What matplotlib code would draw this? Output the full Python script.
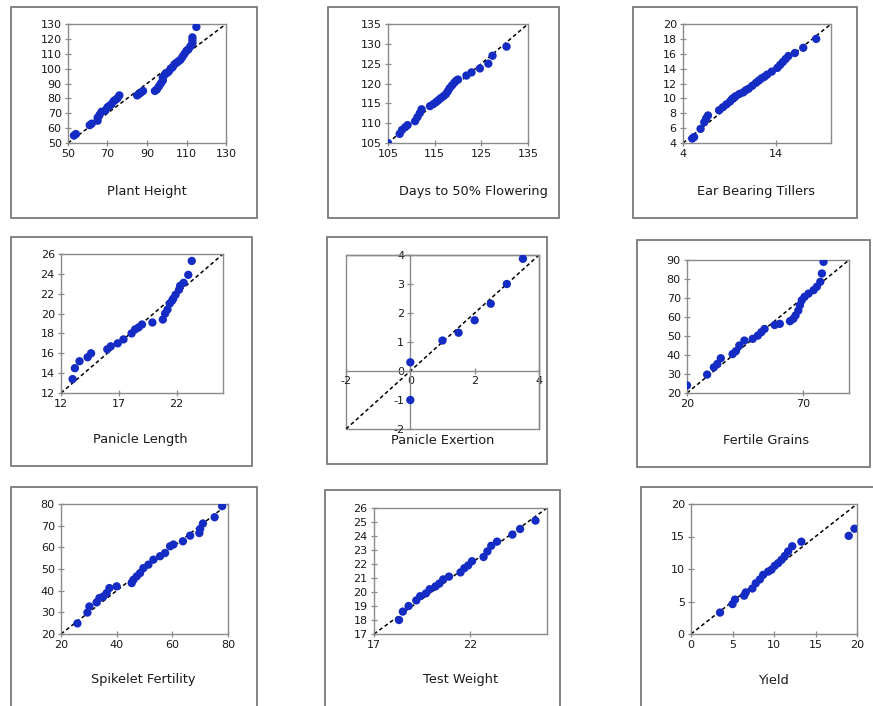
import matplotlib
matplotlib.use("Agg")
import matplotlib.pyplot as plt
from matplotlib.patches import Rectangle

plt.rcParams["axes.unicode_minus"] = False

W, H = 873, 706

# ---------------- data ----------------
titles = ["Plant Height", "Days to 50% Flowering", "Ear Bearing Tillers",
          "Panicle Length", "Panicle Exertion", "Fertile Grains",
          "Spikelet Fertility", "Test Weight", "Yield"]

ph_x = [53, 54, 61, 62, 65, 65, 66, 67, 69, 70, 71, 72, 73, 74, 75, 76, 85, 86, 87, 88,
        94, 95, 96, 97, 98, 98, 99, 100, 101, 102, 103, 104, 105, 106, 107, 108, 109,
        110, 111, 112, 113, 113, 113, 115]
ph_y = [55, 56, 62, 63, 65, 67, 69, 71, 72, 74, 75, 76, 78, 79, 80, 82, 82, 83, 84, 85,
        85, 86, 88, 90, 92, 94, 96, 97, 98, 100, 101, 103, 104, 105, 106, 108, 110,
        112, 113, 115, 117, 119, 121, 128]

df_x = [105, 107.5, 108, 108.7, 109.2, 110.8, 111.3, 111.8, 112.2, 114, 114.7, 115.3,
        115.8, 116.3, 116.9, 117.4, 117.8, 118.2, 118.7, 119.2, 119.6, 120, 121.8,
        122.9, 124.7, 126.5, 127.4, 130.4]
df_y = [105, 107.3, 108.3, 109, 109.5, 110.5, 111.5, 112.5, 113.5, 114.3, 114.8, 115.3,
        115.8, 116.3, 116.8, 117.3, 118, 118.8, 119.5, 120.2, 120.7, 121, 122, 122.8,
        123.8, 125, 127, 129.3]

et_x = [5, 5.2, 5.9, 6.3, 6.5, 6.7, 7.9, 8.3, 8.7, 9.1, 9.3, 9.5, 9.7, 10.1, 10.5, 10.8,
        11.1, 11.5, 11.9, 12.2, 12.5, 12.8, 13.1, 13.6, 14.2, 14.5, 14.8, 15.1, 15.4,
        16.1, 17, 18.4]
et_y = [4.6, 4.8, 5.9, 6.8, 7.3, 7.7, 8.4, 8.8, 9.2, 9.6, 9.9, 10.1, 10.3, 10.6, 10.8,
        11.1, 11.3, 11.7, 12.1, 12.4, 12.7, 12.9, 13.2, 13.6, 14.1, 14.5, 14.9, 15.3,
        15.7, 16.1, 16.8, 18]

pl_x = [13, 13.2, 13.6, 14.3, 14.6, 16, 16.3, 16.9, 17.4, 18.1, 18.4, 18.7, 19, 19.9,
        20.8, 21, 21.2, 21.4, 21.6, 21.7, 21.9, 22.2, 22.3, 22.6, 23, 23.3]
pl_y = [13.4, 14.5, 15.2, 15.6, 16, 16.4, 16.7, 17, 17.4, 18, 18.4, 18.6, 18.9, 19.1,
        19.4, 20, 20.4, 21, 21.3, 21.5, 21.9, 22.4, 22.8, 23.1, 23.9, 25.3]

pe_x = [0, 0, 1, 1.5, 2, 2.5, 3, 3.5]
pe_y = [-1, 0.3, 1.05, 1.32, 1.75, 2.32, 3.0, 3.87]

fg_x = [20, 28.7, 31.6, 33.1, 34.6, 39.7, 41.1, 42.6, 44.8, 48.4, 50.6, 52.1, 53.5,
        57.9, 60.1, 64.5, 65.9, 66.9, 68.1, 68.8, 69.6, 70.8, 72.5, 74.7, 76.1, 77.6,
        78.3, 79]
fg_y = [24, 29.7, 33.5, 35.3, 38.3, 40.5, 42, 45, 47.6, 48.5, 50.2, 52, 53.7, 55.8,
        56.4, 57.8, 59, 60.8, 63.4, 66.2, 68.8, 70.6, 72.3, 74.1, 75.9, 78.5, 82.9, 89]

sf_x = [25.9, 29.5, 30.2, 32.8, 33.8, 35.2, 36.4, 37.4, 40, 45.4, 46, 47.2, 48.4, 49.6,
        51.4, 53.2, 55.6, 57.4, 59.2, 60.4, 63.8, 66.4, 69.7, 70, 71, 75.2, 77.9]
sf_y = [24.9, 29.9, 32.7, 34.6, 36.6, 37.3, 38.9, 41.2, 42, 43.5, 45, 46.6, 48.1, 50.4,
        52, 54.3, 55.9, 57.4, 60.5, 61.3, 62.8, 65.4, 66.6, 68.5, 71, 73.9, 79]

tw_x = [18.3, 18.5, 18.8, 19.2, 19.4, 19.7, 19.9, 20.2, 20.4, 20.6, 20.9, 21.5, 21.7,
        21.9, 22.1, 22.7, 22.9, 23.1, 23.4, 24.2, 24.6, 25.4]
tw_y = [18, 18.6, 19, 19.4, 19.7, 19.9, 20.2, 20.4, 20.6, 20.9, 21.1, 21.4, 21.7, 21.9,
        22.2, 22.5, 22.9, 23.3, 23.6, 24.1, 24.5, 25.1]

yd_x = [3.5, 5, 5.3, 6.4, 6.6, 7.4, 7.8, 8.3, 8.7, 9.3, 9.7, 10.1, 10.5, 10.9, 11.3,
        11.7, 12.2, 13.3, 19, 19.7]
yd_y = [3.3, 4.6, 5.3, 5.9, 6.4, 7, 7.8, 8.4, 9.1, 9.6, 9.9, 10.5, 10.9, 11.4, 12,
        12.7, 13.5, 14.2, 15.1, 16.2]

xs = [ph_x, df_x, et_x, pl_x, pe_x, fg_x, sf_x, tw_x, yd_x]
ys = [ph_y, df_y, et_y, pl_y, pe_y, fg_y, sf_y, tw_y, yd_y]

lims = [(50, 130), (105, 135), (4, 20), (12, 26), (-2, 4), (20, 90), (20, 80), (17, 26), (0, 20)]
xticks = [[50, 70, 90, 110, 130], [105, 115, 125, 135], [4, 14], [12, 17, 22],
          [-2, 0, 2, 4], [20, 70], [20, 40, 60, 80], [17, 22], [0, 5, 10, 15, 20]]
yticks = [list(range(50, 131, 10)), list(range(105, 136, 5)), list(range(4, 21, 2)),
          list(range(12, 27, 2)), list(range(-2, 5, 1)), list(range(20, 91, 10)),
          list(range(20, 81, 10)), list(range(17, 27, 1)), list(range(0, 21, 5))]

# ---------------- layout (pixels) ----------------
axes_px = [(68, 24, 226, 143), (388, 24, 528, 143), (683, 24, 831, 143),
           (61, 254, 223, 393), (346, 255, 539, 429), (687, 260, 849, 393),
           (61, 504, 228, 634), (374, 508, 547, 634), (691, 504, 857, 634)]
boxes_px = [(11, 7, 257, 218), (328, 7, 559, 218), (633, 7, 857, 218),
            (11, 237, 252, 466), (327, 237, 547, 464), (637, 240, 870, 467),
            (11, 487, 257, 710), (325, 490, 560, 710), (641, 487, 880, 710)]
title_px = [(147, 191), (473, 191), (756, 192), (140, 439), (443, 441), (766, 440),
            (143, 680), (461, 680), (773, 680)]

fig = plt.figure(figsize=(W / 100, H / 100), dpi=100)
fig.patch.set_facecolor("white")

dot = "#152CC4"
gray = "#8a8a8a"

for i in range(9):
    l, t, r, b = boxes_px[i]
    fig.patches.append(Rectangle((l / W, 1 - b / H), (r - l) / W, (b - t) / H,
                                 transform=fig.transFigure, fill=False,
                                 edgecolor="#7a7a7a", linewidth=1.3))
    l, t, r, b = axes_px[i]
    ax = fig.add_axes([l / W, 1 - b / H, (r - l) / W, (b - t) / H])
    lo, hi = lims[i]
    ax.set_xlim(lo, hi)
    ax.set_ylim(lo, hi)
    ax.set_xticks(xticks[i])
    ax.set_yticks(yticks[i])
    ax.plot([lo, hi], [lo, hi], color="black", linestyle=(0, (2.5, 1.8)), linewidth=1.1,
            zorder=2)
    ax.scatter(xs[i], ys[i], s=36, color=dot, edgecolors="none", zorder=3)
    for sp in ax.spines.values():
        sp.set_color(gray)
        sp.set_linewidth(1.0)
    ax.tick_params(direction="inout", length=5, width=0.9, color=gray,
                   labelsize=8, labelcolor="#1a1a1a", pad=2)
    if i == 4:
        ax.spines["left"].set_position(("data", 0))
        ax.spines["bottom"].set_position(("data", 0))
        ax.add_patch(Rectangle((0, 0), 1, 1, transform=ax.transAxes, fill=False,
                               edgecolor=gray, linewidth=1.0, clip_on=False))
        ax.tick_params(axis="x", pad=1)
    tx, ty = title_px[i]
    fig.text(tx / W, 1 - ty / H, titles[i], ha="center", va="center",
             fontsize=9.3, color="#1a1a1a")

fig.savefig("out.png", dpi=100)
